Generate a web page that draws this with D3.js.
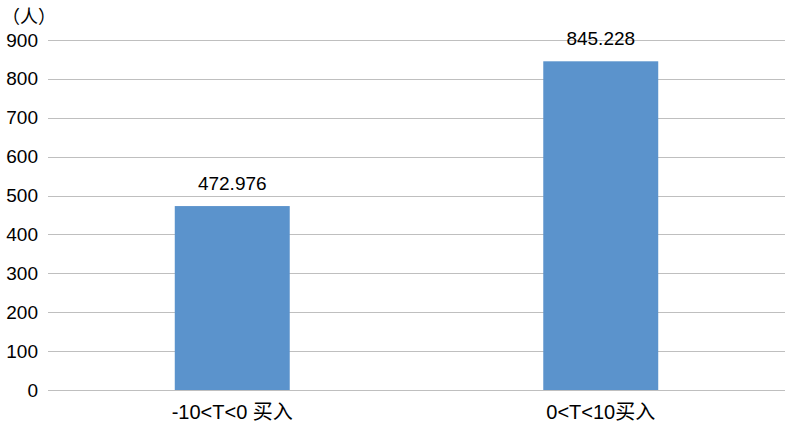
<!DOCTYPE html>
<html>
<head>
<meta charset="utf-8">
<script src="https://cdn.jsdelivr.net/npm/d3@7"></script>
<style>
  body { margin: 0; background: #fff; }
  text { font-family: "Liberation Sans", Arial, "Noto Sans CJK SC", sans-serif; fill: #000; }
</style>
</head>
<body>
<div id="chart"></div>
<script>
// Chart data
const categories = ["-10<T<0 买入", "0<T<10买入"];
const values = [472.976, 845.228];
const labels = ["472.976", "845.228"];
const yTicks = [0, 100, 200, 300, 400, 500, 600, 700, 800, 900];

const width = 790,
      height = 429;
const margin = { top: 40, right: 5, bottom: 39, left: 48 };

const svg = d3.select("#chart")
  .append("svg")
  .attr("width", width)
  .attr("height", height);

// Scales
const xScale = d3.scaleBand()
  .domain(categories)
  .range([margin.left, width - margin.right])
  .padding(0);
const yScale = d3.scaleLinear()
  .domain([0, 900])
  .range([height - margin.bottom, margin.top]);

const barWidth = xScale.bandwidth() * 0.312;

// Gridlines
svg.append("g")
  .selectAll("line")
  .data(yTicks)
  .join("line")
  .attr("x1", margin.left)
  .attr("x2", width - margin.right)
  .attr("y1", d => Math.round(yScale(d)) + 0.5)
  .attr("y2", d => Math.round(yScale(d)) + 0.5)
  .attr("stroke", "#bfbfbf")
  .attr("stroke-width", 1);

// Y axis labels
const yAxis = svg.append("g")
  .attr("transform", `translate(${margin.left}, 0)`)
  .call(d3.axisLeft(yScale).tickValues(yTicks).tickSize(0).tickPadding(10));
yAxis.select(".domain").remove();
yAxis.selectAll("text")
  .attr("font-size", 19)
  .attr("font-family", "Liberation Sans, Arial, sans-serif");

// Unit label
svg.append("text")
  .attr("x", 2)
  .attr("y", 23)
  .attr("font-size", 18)
  .text("（人）");

// Bars
svg.selectAll("rect.bar")
  .data(values)
  .join("rect")
  .attr("class", "bar")
  .attr("x", (d, i) => xScale(categories[i]) + xScale.bandwidth() / 2 - barWidth / 2)
  .attr("y", d => yScale(d))
  .attr("width", barWidth)
  .attr("height", d => yScale(0) - yScale(d))
  .attr("fill", "#5b93cc");

// Data labels
svg.selectAll("text.value")
  .data(values)
  .join("text")
  .attr("class", "value")
  .attr("x", (d, i) => xScale(categories[i]) + xScale.bandwidth() / 2)
  .attr("y", d => yScale(d) - 16)
  .attr("text-anchor", "middle")
  .attr("font-size", 19)
  .text((d, i) => labels[i]);

// X axis
const xAxis = svg.append("g")
  .attr("transform", `translate(0, ${height - margin.bottom})`)
  .call(d3.axisBottom(xScale).tickSize(0).tickPadding(15));
xAxis.select(".domain").remove();
xAxis.selectAll("text")
  .attr("font-size", 20)
  .attr("font-family", "Liberation Sans, Arial, Noto Sans CJK SC, sans-serif");
</script>
</body>
</html>
